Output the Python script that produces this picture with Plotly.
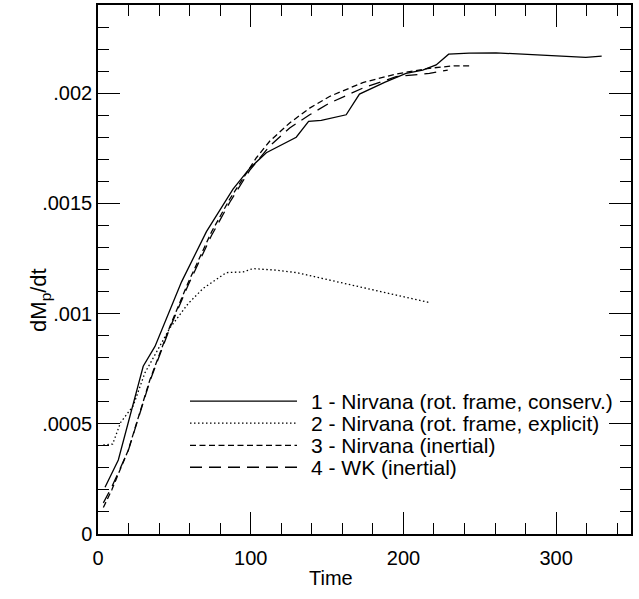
import plotly.graph_objects as go

# Series 1 - Nirvana (rot. frame, conserv.)
t1 = [4.6, 13.3, 29.6, 37.3, 54.7, 71, 88.4, 99.3, 110.2, 129.8, 137.9, 146.2,
      162.5, 171.2, 188, 201.7, 212.6, 221.4, 229.6, 243, 260.6, 291, 319.4, 329.8]
v1 = [0.000212, 0.000336, 0.000761, 0.000851, 0.001144, 0.001372, 0.001565, 0.001659,
      0.00173, 0.0018, 0.001872, 0.001877, 0.001902, 0.001996, 0.00205, 0.00209,
      0.002105, 0.002128, 0.002177, 0.002182, 0.002183, 0.002173, 0.002162, 0.002168]

# Series 2 - Nirvana (rot. frame, explicit)
t2 = [3.5, 9.6, 14.8, 23, 30.7, 47, 59, 68.8, 84, 95, 101.5, 116.8, 129.9,
      147.3, 169, 189.8, 217]
v2 = [0.000404, 0.000408, 0.000506, 0.000581, 0.000731, 0.000934, 0.001045, 0.001114,
      0.001186, 0.001189, 0.001204, 0.001197, 0.001186, 0.001159, 0.001122, 0.001092, 0.00105]

# Series 3 - Nirvana (inertial)
t3 = [3.5, 9, 19.8, 34, 47, 59, 74.3, 86.3, 103.7, 112.4, 125.5, 138.6, 151.6,
      173.4, 195.2, 217, 233, 244]
v3 = [0.00012, 0.0002, 0.00038, 0.0007, 0.00094, 0.00114, 0.00137, 0.00152, 0.001707,
      0.001782, 0.001865, 0.001932, 0.001985, 0.002048, 0.002087, 0.002113, 0.002124, 0.002124]

# Series 4 - WK (inertial)
t4 = [3.5, 9, 19.8, 34, 47, 59, 74.3, 86.3, 99.3, 112.4, 125.5, 138.6, 151.6,
      173.4, 195.2, 217, 229]
v4 = [0.000141, 0.000213, 0.000378, 0.000694, 0.000934, 0.001129, 0.001354, 0.001505,
      0.00165, 0.00176, 0.001842, 0.001902, 0.001955, 0.002023, 0.002075, 0.00209, 0.002105]

names = ["1 - Nirvana (rot. frame, conserv.)", "2 - Nirvana (rot. frame, explicit)",
         "3 - Nirvana (inertial)", "4 - WK (inertial)"]

y_tickvals = [0, 0.0005, 0.001, 0.0015, 0.002]
y_ticktext = ["0", ".0005", ".001", ".0015", ".002"]
x_tickvals = [0, 100, 200, 300]

dashes = ["solid", "1.5px,2.5px", "6px,3.5px", "12px,7px"]
LW = 1.3
FONT = "Liberation Sans, Arial, sans-serif"

fig = go.Figure()
for t, v, n, d in zip([t1, t2, t3, t4], [v1, v2, v3, v4], names, dashes):
    fig.add_trace(go.Scatter(x=t, y=v, mode="lines", name=n,
                             line=dict(color="black", width=LW, dash=d),
                             showlegend=False))

W, H = 639, 599
ml, mr, mt, mb = 98, 8, 3, 65
pw, ph = W - ml - mr, H - mt - mb

def px(xp):
    return (xp - ml) / pw

def py(yp):
    return (H - mb - yp) / ph

shapes = []
annotations = []
rows_y = [400.7, 422.7, 445, 467]
for ry, n, d in zip(rows_y, names, dashes):
    shapes.append(dict(type="line", xref="paper", yref="paper",
                       x0=px(190), x1=px(297), y0=py(ry), y1=py(ry),
                       line=dict(color="black", width=LW, dash=d)))
    annotations.append(dict(xref="paper", yref="paper", x=px(309), y=py(ry),
                            text=n, showarrow=False, xanchor="left", yanchor="middle",
                            font=dict(family=FONT, size=21, color="black")))

annotations.append(dict(xref="paper", yref="paper", x=px(331), y=py(578),
                        text="Time", showarrow=False, xanchor="center", yanchor="middle",
                        font=dict(family=FONT, size=20, color="black")))
annotations.append(dict(xref="paper", yref="paper", x=px(40), y=py(299),
                        text="dM<sub>p</sub>/dt", showarrow=False, textangle=-90,
                        xanchor="center", yanchor="middle",
                        font=dict(family=FONT, size=22, color="black")))

axis_common = dict(showline=True, linecolor="black", linewidth=1.5, mirror="allticks",
                   ticks="inside", ticklen=22, tickwidth=1, tickcolor="black",
                   showgrid=False, zeroline=False,
                   tickfont=dict(family=FONT, size=20, color="black"))

fig.update_layout(
    width=W, height=H,
    margin=dict(l=ml, r=mr, t=mt, b=mb),
    paper_bgcolor="white", plot_bgcolor="white",
    xaxis=dict(range=[0, 349], tickvals=x_tickvals, ticklabelstandoff=5,
               minor=dict(dtick=20, ticks="inside", ticklen=11, tickwidth=1, tickcolor="black"),
               **axis_common),
    yaxis=dict(range=[0, 0.0024], tickvals=y_tickvals, ticktext=y_ticktext,
               minor=dict(dtick=0.0001, ticks="inside", ticklen=11, tickwidth=1, tickcolor="black"),
               **axis_common),
    shapes=shapes, annotations=annotations,
)

fig.write_html("out.html", config={"displayModeBar": False},
               post_script="document.body.style.margin='0px';")
